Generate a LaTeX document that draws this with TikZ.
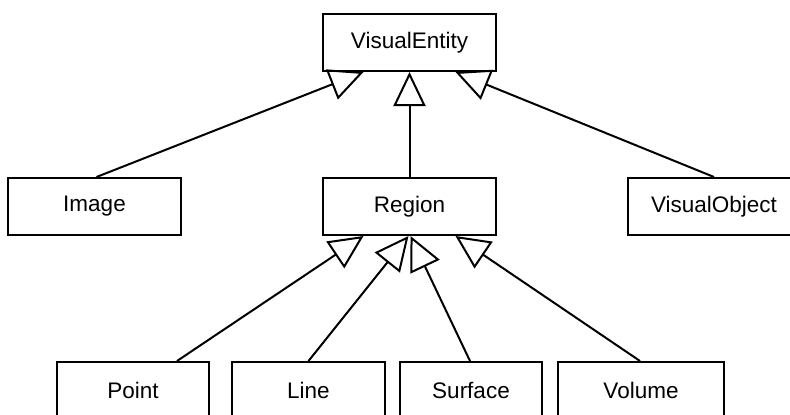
\documentclass[tikz,border=0pt]{standalone}
\usepackage{fontspec}
\setmainfont{Liberation Sans}
\usetikzlibrary{arrows.meta}
\begin{document}
\begin{tikzpicture}[x=1pt,y=-1pt,
  cls/.style={draw,line width=2pt,rectangle,minimum height=57pt,inner sep=0pt,
    font=\fontsize{22.5}{27}\selectfont},
  gen/.style={line width=2pt,-{Triangle[open,length=34pt,width=32pt]}}]
\useasboundingbox (0,0) rectangle (790,415);
\clip (0,0) rectangle (790,415);

% classes
\node[cls,minimum width=173pt] (VisualEntity) at (409.5,42.5) {VisualEntity};
\node[cls,minimum width=173pt] (Image) at (94.5,206.5) {Image};
\node[cls,minimum width=173pt] (Region) at (409.5,206.5) {Region};
\node[cls,minimum width=172pt] (VisualObject) at (714,206.5) {VisualObject};
\node[cls,minimum width=152pt] (Point) at (133,390.5) {Point};
\node[cls,minimum width=153pt] (Line) at (308.5,390.5) {Line};
\node[cls,minimum width=142pt] (Surface) at (471,390.5) {Surface};
\node[cls,minimum width=166pt] (Volume) at (641,390.5) {Volume};

% generalisations
\draw[gen] ([xshift=2pt]Image.north) -- ([xshift=-46pt]VisualEntity.south);
\draw[gen] (Region.north) -- (VisualEntity.south);
\draw[gen] (VisualObject.north) -- ([xshift=46pt]VisualEntity.south);

\draw[gen] ([xshift=44pt]Point.north) -- ([xshift=-46pt]Region.south);
\draw[gen] (Line.north) -- ([xshift=-1pt]Region.south);
\draw[gen] ([xshift=-1pt]Surface.north) -- ([xshift=1pt]Region.south);
\draw[gen] ([xshift=-1pt]Volume.north) -- ([xshift=46pt]Region.south);
\end{tikzpicture}
\end{document}
